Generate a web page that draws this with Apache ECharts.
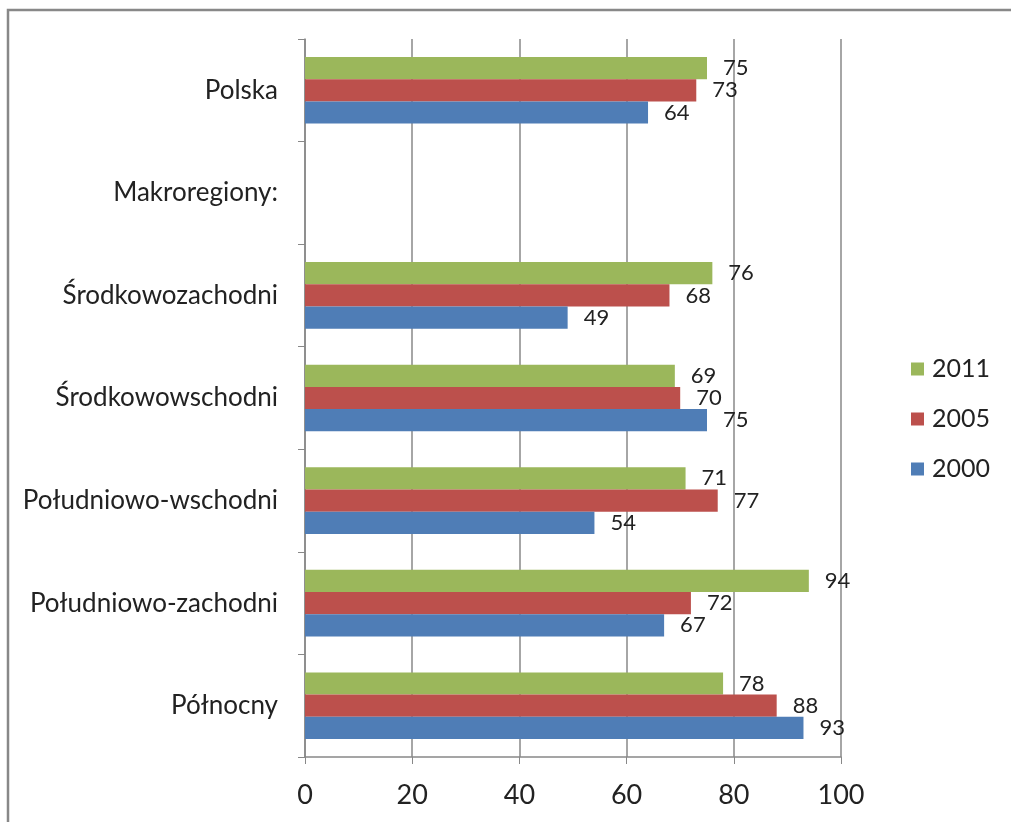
<!DOCTYPE html>
<html>
<head>
<meta charset="utf-8">
<script src="https://cdn.jsdelivr.net/npm/echarts@6/dist/echarts.min.js"></script>
<style>
  html, body { margin: 0; padding: 0; background: #fff; }
  #chart { width: 1011px; height: 822px; }
</style>
</head>
<body>
<div id="chart"></div>
<script>
// kategorie od dołu do góry
var regions = ['Północny', 'Południowo-zachodni', 'Południowo-wschodni', 'Środkowowschodni', 'Środkowozachodni', 'Makroregiony:', 'Polska'];
var v2000 = [93, 67, 54, 75, 49, null, 64];
var v2005 = [88, 72, 77, 70, 68, null, 73];
var v2011 = [78, 94, 71, 69, 76, null, 75];
var xTicks = [0, 20, 40, 60, 80, 100];

var font = 'Lato, "Open Sans", sans-serif';
var chart = echarts.init(document.getElementById('chart'));

function barSeries(name, data, color) {
    return {
        name: name,
        type: 'bar',
        data: data,
        barGap: '0%',
        barCategoryGap: '35%',
        itemStyle: { color: color },
        label: {
            show: true,
            position: 'right',
            distance: 16,
            color: '#222',
            fontFamily: font,
            fontSize: 22
        }
    };
}

chart.setOption({
    animation: false,
    graphic: [{
        type: 'rect',
        shape: { x: 8, y: 10, width: 1100, height: 900 },
        style: { fill: 'none', stroke: '#888', lineWidth: 2.5 },
        silent: true
    }],
    grid: { left: 305, right: 170, top: 39, bottom: 65 },
    legend: {
        orient: 'vertical',
        left: 906,
        top: 351,
        itemWidth: 13,
        itemHeight: 13,
        itemGap: 24,
        icon: 'rect',
        data: ['2011', '2005', '2000'],
        textStyle: { fontFamily: font, fontSize: 25, lineHeight: 26, color: '#222', padding: [0, 0, 0, 3] }
    },
    xAxis: {
        type: 'value',
        min: xTicks[0],
        max: xTicks[xTicks.length - 1],
        interval: 20,
        axisLine: { show: true, lineStyle: { color: '#888', width: 1.5 } },
        axisTick: { show: true, length: 7, lineStyle: { color: '#888' } },
        splitLine: { show: true, lineStyle: { color: '#888', width: 1.5 } },
        axisLabel: { fontFamily: font, fontSize: 27, color: '#222', margin: 25 }
    },
    yAxis: {
        type: 'category',
        data: regions,
        axisLine: { show: true, lineStyle: { color: '#888', width: 1.5 } },
        axisTick: { show: true, length: 7, lineStyle: { color: '#888' } },
        axisLabel: { fontFamily: font, fontSize: 26, color: '#222', margin: 27 }
    },
    series: [
        barSeries('2011', v2011, '#9BB75B'),
        barSeries('2005', v2005, '#BC504C'),
        barSeries('2000', v2000, '#4F7DB6')
    ]
});
</script>
</body>
</html>
